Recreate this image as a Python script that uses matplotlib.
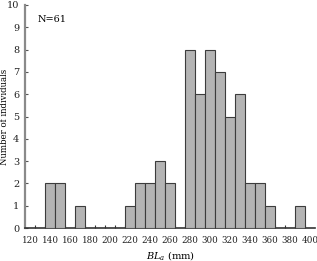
import matplotlib
matplotlib.use("Agg")
import matplotlib.pyplot as plt
from matplotlib.ticker import MultipleLocator, FixedLocator

# Data
bin_values = [140, 150, 170, 220, 230, 240, 250, 260, 280, 290, 300, 310, 320, 330, 340, 350, 360, 390]
counts     = [2,   2,   1,   1,   2,   2,   3,   2,   8,   6,   8,   7,   5,   6,   2,   2,   1,   1]
xtick_labels = list(range(120, 401, 20))
n_text = "N=61"

plt.rcParams['font.family'] = ['DejaVu Serif']
plt.rcParams['mathtext.fontset'] = 'dejavuserif'

fig = plt.figure(figsize=(3.17, 2.61), dpi=100)
ax = fig.add_axes([25/317, 33/261, 290/317, 223/261])

ax.bar(bin_values, counts, width=10, align='center', color='#b4b4b4',
       edgecolor='#3c3c3c', linewidth=0.8, zorder=3)

ax.set_xlim(115, 405)
ax.set_ylim(0, 10)
ax.xaxis.set_major_locator(FixedLocator(xtick_labels))
ax.set_xticklabels([str(v) for v in xtick_labels])
ax.xaxis.set_minor_locator(FixedLocator(list(range(125, 405, 10))))
ax.yaxis.set_major_locator(MultipleLocator(1))

ax.tick_params(axis='x', which='major', length=0, labelsize=6.3, pad=6, colors='#222222')
ax.tick_params(axis='x', which='minor', length=2.5, direction='in', color='#333333', width=0.8)
ax.tick_params(axis='y', which='major', length=2.5, direction='in', labelsize=7, pad=4,
               colors='#222222', color='#555555')

for s in ['top', 'right']:
    ax.spines[s].set_visible(False)
ax.spines['left'].set_color('#8a8a8a')
ax.spines['left'].set_linewidth(1.6)
ax.spines['bottom'].set_color('#333333')
ax.spines['bottom'].set_linewidth(1.2)

ax.set_ylabel('Number of individuals', fontsize=6.2)
ax.yaxis.set_label_coords(-0.054, 0.5)
ax.set_xlabel(r'$BL_{a}$ (mm)', fontsize=7, labelpad=3)

ax.text(0.045, 0.955, n_text, transform=ax.transAxes, fontsize=7, va='top', ha='left')

fig.savefig('out.png', dpi=100)
